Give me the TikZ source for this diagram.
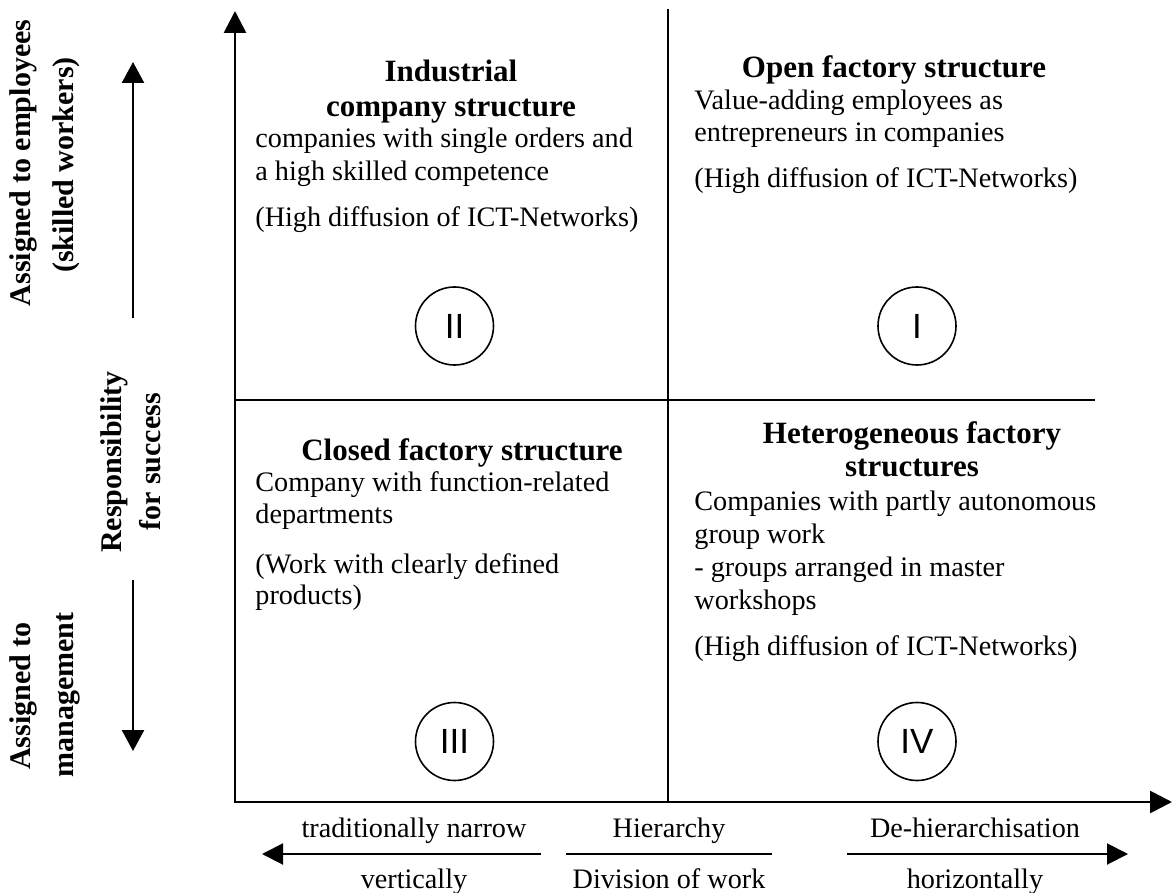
\documentclass[tikz,border=0pt]{standalone}
\usepackage{fontspec}
\setmainfont{Liberation Serif}
\newfontfamily\numfont{Liberation Sans}
\usetikzlibrary{arrows.meta}
\tikzset{
  body/.style={font=\fontsize{14.1}{17}\selectfont, inner sep=0pt, anchor=base west},
  head/.style={font=\fontsize{15.5}{18}\selectfont\bfseries, inner sep=0pt, anchor=base},
  side/.style={font=\fontsize{15}{18}\selectfont\bfseries, inner sep=0pt, anchor=base, rotate=90},
  bottomlbl/.style={font=\fontsize{14.1}{17}\selectfont, inner sep=0pt, anchor=base},
  roman/.style={circle, draw, line width=0.8pt, minimum size=39pt, inner sep=0pt, font=\numfont\fontsize{17.5}{20}\selectfont},
  axis/.style={line width=1.4pt},
  divider/.style={line width=1.1pt},
  sidearrow/.style={line width=1.2pt, -{Triangle[width=11pt,length=10.5pt]}},
  botarrow/.style={line width=1pt, -{Triangle[width=10.5pt,length=10.5pt]}},
  axtip/.style={Triangle[width=11pt,length=11pt]}
}
\begin{document}
\begin{tikzpicture}[x=0.5pt, y=-0.5pt]
\useasboundingbox (0,0) rectangle (1173,893);

% axes
\coordinate (O) at (235,802);
\coordinate (ytip) at (235,11);
\coordinate (xtip) at (1172,802);
\draw[axis, {Triangle[width=11pt,length=11pt]}-{Triangle[width=11pt,length=11pt]}] (ytip) -- (O) -- (xtip);

% dividers
\coordinate (vtop) at (668,9);
\coordinate (vbot) at (668,802);
\coordinate (hl) at (235,400);
\coordinate (hr) at (1095,400);
\draw[divider] (vtop) -- (vbot);
\draw[divider] (hl) -- (hr);

% left side arrows
\coordinate (ua1) at (133,318);
\coordinate (ua2) at (133,62);
\coordinate (da1) at (133,580);
\coordinate (da2) at (133,751);
\draw[sidearrow] (ua1) -- (ua2);
\draw[sidearrow] (da1) -- (da2);

% side labels
\node[side] (s1) at (31,163) {Assigned to employees};
\node[side] (s2) at (73,165) {(skilled workers)};
\node[side] (s3) at (121,462) {Responsibility};
\node[side] (s4) at (160,462) {for success};
\node[side] (s5) at (31,696) {Assigned to};
\node[side] (s6) at (73,695) {management};

% bottom arrows
\coordinate (la1) at (541,854);
\coordinate (la2) at (262,854);
\coordinate (m1) at (566,854);
\coordinate (m2) at (772,854);
\coordinate (ra1) at (847,854);
\coordinate (ra2) at (1128,854);
\draw[botarrow] (la1) -- (la2);
\draw[line width=1pt] (m1) -- (m2);
\draw[botarrow] (ra1) -- (ra2);

% bottom labels
\node[bottomlbl] (b1) at (414,837) {traditionally narrow};
\node[bottomlbl] (b2) at (669,837) {Hierarchy};
\node[bottomlbl] (b3) at (975,837) {De-hierarchisation};
\node[bottomlbl] (b4) at (414,888) {vertically};
\node[bottomlbl] (b5) at (669,888) {Division of work};
\node[bottomlbl] (b6) at (975,888) {horizontally};

% quadrant II (upper left)
\node[head] (h2a) at (451,82) {Industrial};
\node[head] (h2b) at (451,117) {company structure};
\node[body] (t2a) at (255,148) {companies with single orders and};
\node[body] (t2b) at (255,181) {a high skilled competence};
\node[body] (t2c) at (255,227) {(High diffusion of ICT-Networks)};

% quadrant I (upper right)
\node[head] (h1) at (894,78) {Open factory structure};
\node[body] (t1a) at (694,110) {Value-adding employees as};
\node[body] (t1b) at (694,142) {entrepreneurs in companies};
\node[body] (t1c) at (694,188) {(High diffusion of ICT-Networks)};

% quadrant III (lower left)
\node[head] (h3) at (462,460) {Closed factory structure};
\node[body] (t3a) at (255,491) {Company with function-related};
\node[body] (t3b) at (255,523) {departments};
\node[body] (t3c) at (255,573) {(Work with clearly defined};
\node[body] (t3d) at (255,604) {products)};

% quadrant IV (lower right)
\node[head] (h4a) at (912,443) {Heterogeneous factory};
\node[head] (h4b) at (912,476) {structures};
\node[body] (t4a) at (694,510) {Companies with partly autonomous};
\node[body] (t4b) at (694,543) {group work};
\node[body] (t4c) at (694,576) {- groups arranged in master};
\node[body] (t4d) at (694,609) {workshops};
\node[body] (t4e) at (694,655) {(High diffusion of ICT-Networks)};

% roman numerals
\node[roman] (cII) at (454.5,326) {II};
\node[roman] (cI) at (917,326) {I};
\node[roman] (cIII) at (454.5,741.5) {III};
\node[roman] (cIV) at (917,741.5) {IV};
\end{tikzpicture}
\end{document}
